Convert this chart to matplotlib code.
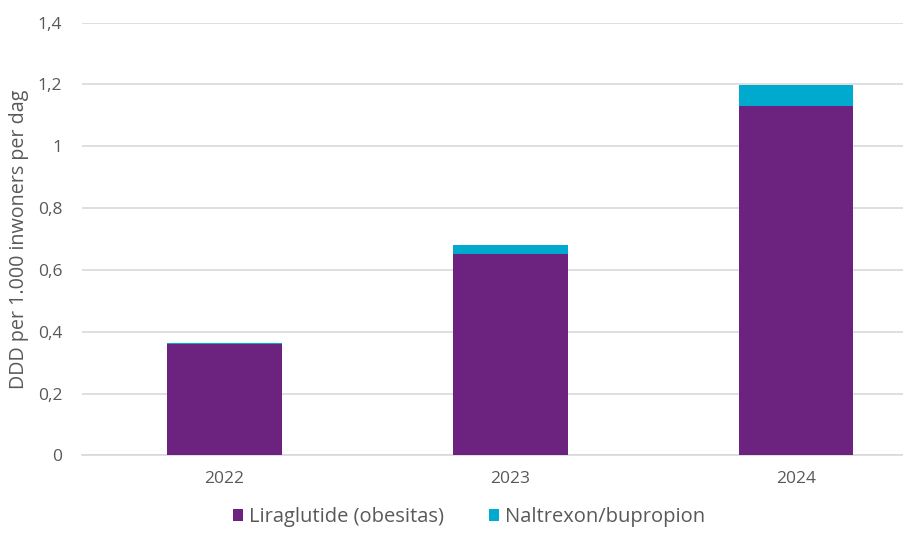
import matplotlib
matplotlib.use("Agg")
import matplotlib.pyplot as plt
from matplotlib.ticker import FuncFormatter, MultipleLocator

years = ["2022", "2023", "2024"]
liraglutide = [0.36, 0.65, 1.13]
naltrexon = [0.005, 0.03, 0.07]
series_names = ["Liraglutide (obesitas)", "Naltrexon/bupropion"]
ylabel = "DDD per 1.000 inwoners per dag"

purple = "#6C2380"
cyan = "#00A9CE"
textc = "#595959"
gridc = "#D9D9D9"

plt.rcParams['font.family'] = ['Open Sans', 'DejaVu Sans']

fig = plt.figure(figsize=(9.04, 5.33), dpi=100)
ax = fig.add_axes([81.75/904, 77.7/533, (939-81.75)/904, (455.3-22.7)/533])

x = list(range(len(years)))
ax.bar(x, liraglutide, width=0.4, color=purple, label=series_names[0], zorder=3)
ax.bar(x, naltrexon, width=0.4, bottom=liraglutide, color=cyan, label=series_names[1], zorder=3)

ax.set_xlim(-0.5, 2.5)
ax.set_ylim(0, 1.4)
ax.yaxis.set_major_locator(MultipleLocator(0.2))
ax.yaxis.set_major_formatter(FuncFormatter(lambda v, p: f"{round(v, 1):g}".replace('.', ',')))
ax.set_xticks(x)
ax.set_xticklabels(years)
ax.grid(axis='y', color=gridc, linewidth=1.2, zorder=0)
for s in ['top', 'right', 'left']:
    ax.spines[s].set_visible(False)
ax.spines['bottom'].set_color(gridc)
ax.spines['bottom'].set_linewidth(1.2)
ax.tick_params(axis='both', length=0, labelsize=12.5, labelcolor=textc)
ax.tick_params(axis='y', pad=14)
ax.tick_params(axis='x', pad=11)
ax.set_ylabel(ylabel, fontsize=14.2, color=textc, labelpad=6)

leg = fig.legend(loc='center', bbox_to_anchor=(469/904, 1 - 517/533), ncol=2, frameon=False,
                 fontsize=14.5, handlelength=0.5, handleheight=0.5, handletextpad=0.3,
                 columnspacing=2.2, labelcolor=textc)

fig.savefig("out.png", dpi=100)
